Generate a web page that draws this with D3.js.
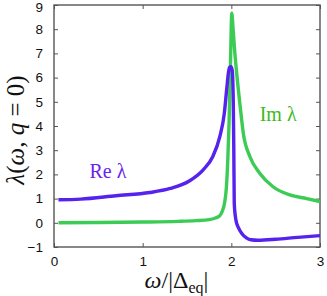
<!DOCTYPE html>
<html>
<head>
<meta charset="utf-8">
<script src="https://cdn.jsdelivr.net/npm/d3@7"></script>
<style>
  body { margin: 0; background: #fff; }
  svg { display: block; }
</style>
</head>
<body>
<svg id="chart" width="327" height="296"></svg>
<script>
// omega / |Delta_eq| and lambda values
const reLambda = [
  [0.05, 0.95], [0.3, 0.98], [0.7, 1.12], [1.08, 1.25], [1.31, 1.42],
  [1.53, 1.74], [1.68, 2.18], [1.79, 2.73], [1.87, 3.56], [1.92, 4.5],
  [1.95, 5.6], [1.967, 6.2], [1.98, 6.42], [1.995, 6.45], [2.01, 6.3],
  [2.022, 5.0], [2.028, 3.0], [2.033, 0.8], [2.05, 0.15], [2.08, -0.2],
  [2.12, -0.45], [2.17, -0.62], [2.22, -0.7], [2.3, -0.72], [2.5, -0.68],
  [2.75, -0.6], [3.0, -0.53]
];
const imLambda = [
  [0.05, 0.0], [0.5, 0.01], [1.0, 0.03], [1.4, 0.06], [1.6, 0.09],
  [1.75, 0.13], [1.82, 0.2], [1.87, 0.3], [1.9, 0.5], [1.925, 0.85],
  [1.945, 1.5], [1.96, 2.6], [1.975, 4.2], [1.99, 6.5], [2.005, 8.66],
  [2.02, 8.0], [2.04, 7.0], [2.06, 6.2], [2.1, 4.8], [2.135, 3.7],
  [2.21, 2.73], [2.32, 2.05], [2.47, 1.49], [2.66, 1.15], [2.85, 1.0],
  [3.0, 0.88]
];
const xTicks = [0, 1, 2, 3];
const yTicks = [-1, 0, 1, 2, 3, 4, 5, 6, 7, 8, 9];

const svg = d3.select('#chart');
const margin = { left: 54, right: 7, top: 5, bottom: 49 };
const width = 327 - margin.left - margin.right;
const height = 296 - margin.top - margin.bottom;

const x = d3.scaleLinear().domain([0, 3]).range([0, width]);
const y = d3.scaleLinear().domain([-1, 9]).range([height, 0]);

const g = svg.append('g').attr('transform', `translate(${margin.left},${margin.top})`);

const axisColor = '#555';

function styleAxis(sel, hideLabels) {
    sel.select('.domain').remove();
    sel.selectAll('.tick line').attr('stroke', axisColor).attr('stroke-width', 1);
    sel.selectAll('.tick text')
        .attr('fill', '#111')
        .style('font-family', 'Liberation Sans, Arial, sans-serif')
        .style('font-size', '13.5px');
    if (hideLabels) sel.selectAll('.tick text').remove();
}

g.append('g').attr('transform', `translate(0,${height})`)
    .call(d3.axisBottom(x).tickValues(xTicks).tickSize(-4).tickPadding(9).tickFormat(d3.format('d')))
    .call(s => styleAxis(s, false));
g.append('g')
    .call(d3.axisTop(x).tickValues(xTicks).tickSize(-4).tickFormat(''))
    .call(s => styleAxis(s, true));
g.append('g')
    .call(d3.axisLeft(y).tickValues(yTicks).tickSize(-4).tickPadding(11).tickFormat(d3.format('d')))
    .call(s => styleAxis(s, false))
    .call(s => s.selectAll('.tick text').filter(d => d === 9).attr('dy', '0.45em'));
g.append('g').attr('transform', `translate(${width},0)`)
    .call(d3.axisRight(y).tickValues(yTicks).tickSize(-4).tickFormat(''))
    .call(s => styleAxis(s, true));

g.append('rect')
    .attr('width', width).attr('height', height)
    .attr('fill', 'none').attr('stroke', axisColor).attr('stroke-width', 1.4);

const line = d3.line()
    .x(d => x(d[0]))
    .y(d => y(d[1]))
    .curve(d3.curveMonotoneX);

g.append('path').datum(imLambda)
    .attr('d', line).attr('fill', 'none')
    .attr('stroke', '#3ccc55').attr('stroke-width', 3.4)
    .attr('stroke-linejoin', 'round');

g.append('path').datum(reLambda)
    .attr('d', line).attr('fill', 'none')
    .attr('stroke', '#5522ee').attr('stroke-width', 3.4)
    .attr('stroke-linejoin', 'round');

// curve labels
const serif = 'Liberation Serif, Times New Roman, serif';
g.append('text')
    .attr('x', x(0.4)).attr('y', y(1.85))
    .attr('fill', '#6a22ee')
    .style('font-family', serif).style('font-size', '20px')
    .text('Re λ');
g.append('text')
    .attr('x', x(2.32)).attr('y', y(4.2))
    .attr('fill', '#3cba22')
    .style('font-family', serif).style('font-size', '20px')
    .text('Im λ');

// axis titles, centred by measured width
const yl = svg.append('text')
    .attr('text-anchor', 'start')
    .style('font-family', serif).style('font-size', '25px')
    .attr('fill', '#111');
yl.append('tspan').style('font-style', 'italic').text('λ');
yl.append('tspan').text('(');
yl.append('tspan').style('font-style', 'italic').text('ω');
yl.append('tspan').text(', ');
yl.append('tspan').style('font-style', 'italic').text('q');
yl.append('tspan').text(' = 0)');
const ylw = yl.node().getComputedTextLength();
yl.attr('transform', `translate(24,${130 + ylw / 2}) rotate(-90)`);

const xl = svg.append('text')
    .attr('text-anchor', 'start')
    .attr('y', 288)
    .style('font-family', serif).style('font-size', '24px')
    .attr('fill', '#111');
xl.append('tspan').style('font-style', 'italic').text('ω');
xl.append('tspan').text('/|Δ');
xl.append('tspan').attr('dy', 5).style('font-size', '16px').text('eq');
xl.append('tspan').attr('dy', -5).text('|');
const xlw = xl.node().getBBox().width;
xl.attr('x', 176.5 - xlw / 2);
</script>
</body>
</html>
